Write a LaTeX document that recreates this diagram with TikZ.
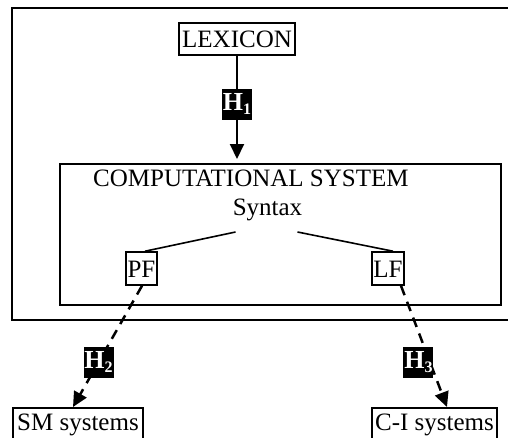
\documentclass[tikz,border=0pt]{standalone}
\usepackage{fontspec}
\setmainfont{Liberation Serif}
\usetikzlibrary{arrows.meta,calc}
\newcommand{\hsub}[1]{\raisebox{-4.5pt}{\fontsize{16}{16}\selectfont #1}}
\begin{document}
\begin{tikzpicture}[x=1pt,y=-1pt,
  every node/.style={font=\fontsize{25}{30}\selectfont},
  box/.style={draw, line width=1.6pt, inner xsep=0pt, inner ysep=0pt, text height=17pt, text depth=0pt, align=center},
  hlab/.style={fill=black, text=white, font=\fontsize{26}{30}\selectfont\bfseries, inner sep=0pt, minimum width=30pt, minimum height=31pt},
  solidarrow/.style={line width=2pt, -{Triangle[length=15pt,width=14pt]}},
  dasharrow/.style={line width=2.5pt, dash pattern=on 10pt off 7pt, -{Triangle[length=15pt,width=14pt]}},
  thinline/.style={line width=1.6pt}]
\useasboundingbox (0,0) rectangle (508,437);
\clip (0,0) rectangle (508,437);
% outer frame
\draw[line width=2pt] (12,8) rectangle (530,320);
% computational system box
\node[draw, line width=1.5pt, minimum width=441pt, minimum height=141pt, anchor=north west, inner sep=0pt] (cs) at (59,163) {};
\node[box, minimum width=116pt, minimum height=32pt] (lex) at (237,39) {LEXICON};
\node[anchor=base west, inner sep=0pt] (cst) at (93,186) {COMPUTATIONAL SYSTEM};
\node[anchor=base, inner sep=0pt] (syn) at (267.5,215) {Syntax};
\node[box, minimum width=31pt, minimum height=33pt] (pf) at (141.5,268.5) {PF};
\node[box, minimum width=32pt, minimum height=33pt] (lf) at (388,268.5) {LF};
\node[box, minimum width=130pt, text depth=12pt, inner ysep=6pt, anchor=north] (sm) at (78,407) {SM systems};
\node[box, minimum width=125pt, text depth=12pt, inner ysep=6pt, anchor=north] (ci) at (434.5,407) {C-I systems};
% connectors
\draw[solidarrow, shorten >=4pt] (lex.south) -- (lex.south |- cs.north) node[hlab, pos=0.45] {H\hsub{1}};
\draw[thinline] ($(syn.base)+(-32,17)$) -- ([xshift=3.5pt]pf.north);
\draw[thinline] ($(syn.base)+(30,17)$) -- ([xshift=5pt]lf.north);
\draw[dasharrow] ([xshift=0.5pt]pf.south) -- ([xshift=-5pt]sm.north) node[hlab, pos=0.63] {H\hsub{2}};
\draw[dasharrow] ([xshift=13pt]lf.south) -- ([xshift=12.5pt]ci.north) node[hlab, pos=0.63, xshift=-11.5pt] {H\hsub{3}};
\end{tikzpicture}
\end{document}
